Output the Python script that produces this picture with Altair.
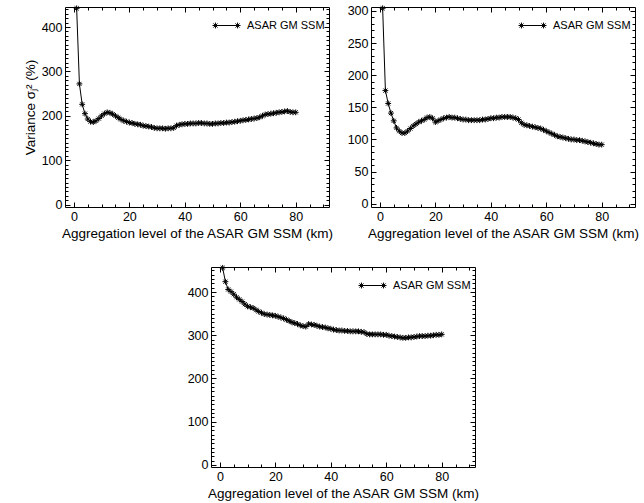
import altair as alt
import pandas as pd

# ---------------- data ----------------
x_km = list(range(1, 81))

var_panel1 = [442, 272, 226, 205, 193, 187, 186, 189, 194, 200,
              205, 208, 207, 204, 200, 196, 192, 189, 187, 185,
              184, 182, 181, 180, 178, 177, 176, 175, 173, 172,
              172, 172, 171, 172, 172, 173, 178, 180, 181, 182,
              182, 183, 183, 183, 184, 184, 183, 183, 182, 182,
              183, 183, 184, 184, 185, 185, 186, 187, 188, 189,
              190, 191, 192, 193, 194, 195, 197, 200, 203, 204,
              205, 206, 207, 208, 209, 210, 211, 209, 208, 208]

var_panel2 = [304, 176, 156, 141, 129, 118, 113, 110, 110, 113,
              117, 121, 124, 127, 129, 131, 134, 135, 133, 127,
              129, 131, 133, 134, 135, 134, 134, 133, 132, 131,
              131, 130, 130, 130, 130, 130, 131, 131, 132, 133,
              133, 134, 134, 135, 135, 135, 135, 134, 133, 131,
              126, 123, 122, 121, 120, 119, 118, 117, 115, 113,
              111, 109, 107, 105, 104, 103, 102, 101, 100, 100,
              99, 99, 98, 97, 96, 95, 94, 93, 92, 92]

var_panel3 = [456, 424, 406, 401, 395, 388, 383, 378, 372, 367,
              365, 363, 359, 355, 352, 349, 348, 347, 346, 345,
              343, 341, 339, 336, 333, 330, 328, 326, 323, 321,
              320, 326, 325, 324, 322, 320, 319, 318, 316, 315,
              313, 312, 311, 311, 310, 310, 309, 309, 309, 309,
              308, 307, 303, 302, 302, 302, 302, 302, 301, 301,
              299, 298, 297, 296, 295, 294, 294, 295, 295, 296,
              297, 298, 298, 298, 299, 299, 300, 301, 301, 302]

series_name = "ASAR GM SSM"
x_title = "Aggregation level of the ASAR GM SSM (km)"
y_title = "Variance σⱼ² (%)"

x_major = [0, 20, 40, 60, 80]
x_minor = [0, 5, 10, 15, 20, 25, 30, 35, 40, 45, 50, 55, 60, 65, 70, 75, 80, 85, 90]
y1_major = [0, 100, 200, 300, 400]
y1_minor = list(range(0, 450, 10))
y2_major = [0, 50, 100, 150, 200, 250, 300]
y2_minor = list(range(0, 310, 10))
y3_major = [0, 100, 200, 300, 400]
y3_minor = list(range(0, 460, 10))

# ---------------- style ----------------
FONT = "Liberation Sans"
W, H = 264, 200
XDOM = [-3.2, 92]
MAJ, MIN = 5, 3


def star_path(cx, r):
    d = 0.7 * r
    return (f"M{cx - r},0L{cx + r},0M{cx},{-r}L{cx},{r}"
            f"M{cx - d},{-d}L{cx + d},{d}M{cx - d},{d}L{cx + d},{-d}")


POINT_SHAPE = star_path(0, 1)
LEGEND_SHAPE = "M-0.79,0L0.79,0" + star_path(-0.79, 0.21) + star_path(0.79, 0.21)


def make_axis(orient, vals, size, labels=False, title=None):
    kw = dict(orient=orient, values=vals, tickSize=size, offset=-size,
              domain=False, grid=False, labels=labels, tickColor="black",
              tickWidth=1)
    if labels:
        kw.update(labelPadding=3, labelFontSize=12.5, labelFont=FONT,
                  labelColor="black", labelFlush=False)
    if title:
        kw.update(title=title, titleFont=FONT, titleFontSize=13.5,
                  titleFontWeight="normal", titleColor="black", titlePadding=4)
    else:
        kw["title"] = None
    return alt.Axis(**kw)


def panel(values, ydom, ymaj, ymin, ytitle=None):
    df = pd.DataFrame({"x": x_km, "v": values, "series": series_name})
    base = alt.Chart(df)
    xs = alt.Scale(domain=XDOM, nice=False, zero=False)
    ys = alt.Scale(domain=ydom, nice=False, zero=False)

    line = base.mark_line(color="black", strokeWidth=1).encode(
        x=alt.X("x:Q", scale=xs, axis=make_axis("bottom", x_major, MAJ, True, x_title)),
        y=alt.Y("v:Q", scale=ys, axis=make_axis("left", ymaj, MAJ, True, ytitle)),
    )
    pts = base.mark_point(shape=POINT_SHAPE, size=34, filled=False,
                          strokeWidth=1, opacity=1).encode(
        x=alt.X("x:Q", scale=xs, axis=make_axis("top", x_major, MAJ)),
        y=alt.Y("v:Q", scale=ys, axis=make_axis("right", ymaj, MAJ)),
        color=alt.Color("series:N", scale=alt.Scale(range=["black"]),
                        legend=alt.Legend(title=None, orient="top-right",
                                          offset=4, padding=0,
                                          symbolType=LEGEND_SHAPE,
                                          symbolSize=784, symbolStrokeWidth=1,
                                          symbolStrokeColor="black",
                                          symbolFillColor="transparent",
                                          labelFont=FONT, labelFontSize=11,
                                          labelColor="black", labelOffset=6)),
    )
    minor_a = base.mark_point(opacity=0).encode(
        x=alt.X("x:Q", scale=xs, axis=make_axis("bottom", x_minor, MIN)),
        y=alt.Y("v:Q", scale=ys, axis=make_axis("left", ymin, MIN)),
    )
    minor_b = base.mark_point(opacity=0).encode(
        x=alt.X("x:Q", scale=xs, axis=make_axis("top", x_minor, MIN)),
        y=alt.Y("v:Q", scale=ys, axis=make_axis("right", ymin, MIN)),
    )
    return (alt.layer(line, pts, minor_a, minor_b)
            .resolve_axis(x="independent", y="independent")
            .properties(width=W, height=H))


p1 = panel(var_panel1, [-5, 445], y1_major, y1_minor, y_title)
p2 = panel(var_panel2, [-5, 306], y2_major, y2_minor)
p3 = panel(var_panel3, [-5, 458], y3_major, y3_minor)

spacer = alt.Chart(pd.DataFrame({"a": [0]})).mark_point(opacity=0).encode(
    x=alt.value(0), y=alt.value(0)
).properties(width=146, height=H, view=alt.ViewBackground(stroke="transparent"))

top = alt.hconcat(p1, p2, spacing=42, bounds="flush").resolve_scale(
    color="independent").resolve_legend(color="independent")
bottom = alt.hconcat(spacer, p3, spacing=0, bounds="flush").resolve_scale(
    color="independent").resolve_legend(color="independent")

chart = alt.vconcat(top, bottom, spacing=21).resolve_scale(
    color="independent").resolve_legend(color="independent").properties(
    padding={"left": 22, "top": 2, "right": 0, "bottom": 0},
    background="white",
).configure_view(stroke="black", strokeWidth=1)

chart.save("out.html", embed_options={"renderer": "svg", "actions": False})
